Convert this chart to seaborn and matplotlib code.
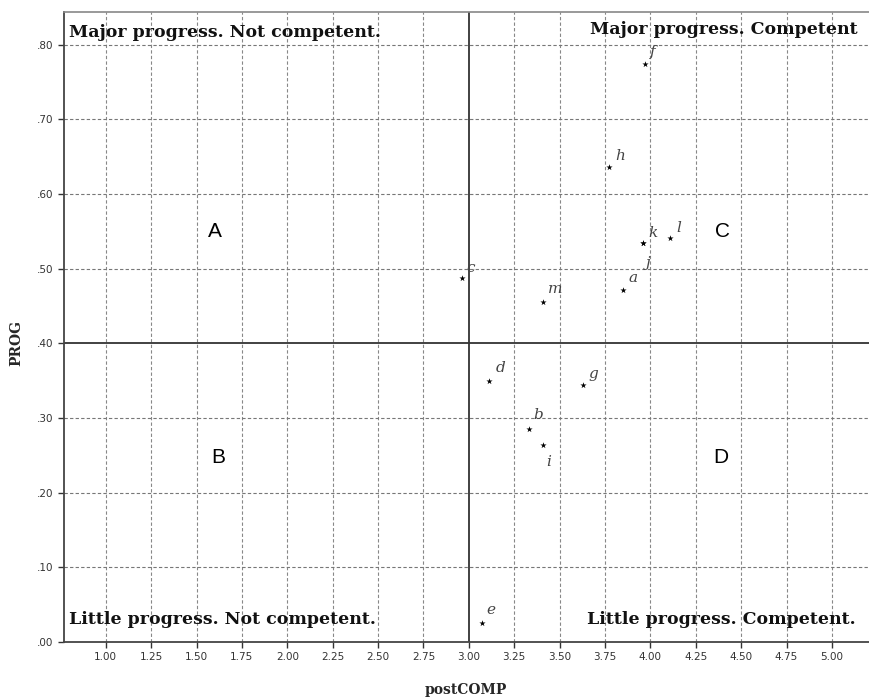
import matplotlib
matplotlib.use("Agg")
import matplotlib.pyplot as plt
import numpy as np
import pandas as pd
import seaborn as sns

# case labels and values
case_labels = ["a", "b", "c", "d", "e", "f", "g", "h", "i", "j", "k", "l", "m"]
post_comp = [3.85, 3.33, 2.96, 3.11, 3.07, 3.97, 3.63, 3.77, 3.41, 3.96, 3.96, 4.11, 3.41]
prog = [0.472, 0.285, 0.488, 0.349, 0.025, 0.775, 0.344, 0.637, 0.264, 0.535, 0.535, 0.541, 0.456]

x_ticks = [1.00, 1.25, 1.50, 1.75, 2.00, 2.25, 2.50, 2.75, 3.00, 3.25, 3.50, 3.75, 4.00, 4.25, 4.50, 4.75, 5.00]
y_ticks = [0.0, 0.1, 0.2, 0.3, 0.4, 0.5, 0.6, 0.7, 0.8]

x_ref = 3.0
y_ref = 0.40

# label offsets in pixels (dx, dy)
label_offsets = {
    "a": (10, 12), "b": (9, 14), "c": (9, 10), "d": (12, 13), "e": (9, 13),
    "f": (8, 12), "g": (10, 11), "h": (12, 11), "i": (5, -17), "j": (5, -20),
    "k": (10, 10), "l": (8, 10), "m": (12, 13),
}

df = pd.DataFrame({"case": case_labels, "postCOMP": post_comp, "PROG": prog})

sns.set_style("white")
plt.rcParams["font.family"] = ["DejaVu Sans"]

fig = plt.figure(figsize=(8.69, 7.0), dpi=100)
ax = fig.add_axes([64 / 869, 1 - 642 / 700, 1 - 64 / 869 + 0.02, (642 - 12) / 700])

sns.scatterplot(data=df, x="postCOMP", y="PROG", marker="*", s=22, color="black",
                edgecolor="black", linewidth=0, ax=ax, zorder=4)

for _, row in df.iterrows():
    dx, dy = label_offsets[row["case"]]
    ax.annotate(row["case"], (row["postCOMP"], row["PROG"]), xytext=(dx, dy),
                textcoords="offset pixels", ha="center", va="center",
                fontsize=11, fontstyle="italic", family="DejaVu Serif",
                color="#444444", zorder=5)

ax.set_xlim(0.77, 5.30)
ax.set_ylim(0.0, 0.844)
ax.set_xticks(x_ticks)
ax.set_xticklabels([f"{v:.2f}" for v in x_ticks], fontsize=7.5, color="#333333")
ax.set_yticks(y_ticks)
ax.set_yticklabels([f"{v:.2f}"[1:] for v in y_ticks], fontsize=7.5, color="#333333")
ax.tick_params(axis="both", length=4, width=1, color="#333333", direction="out",
               bottom=True, left=True)

for v in x_ticks:
    if v != x_ref:
        ax.axvline(v, color="#888888", lw=0.8, ls=(0, (3, 2)), zorder=1)
for v in y_ticks[1:]:
    if v != y_ref:
        ax.axhline(v, color="#777777", lw=0.8, ls=(0, (3, 2)), zorder=1)
ax.axvline(x_ref, color="#333333", lw=1.3, zorder=2)
ax.axhline(y_ref, color="#333333", lw=1.3, zorder=2)

for side in ["left", "bottom"]:
    ax.spines[side].set_color("#444444")
    ax.spines[side].set_linewidth(1.3)
ax.spines["top"].set_color("#888888")
ax.spines["top"].set_linewidth(1.2)
ax.spines["right"].set_visible(False)

serif_bold = dict(family="DejaVu Serif", fontweight="bold", fontsize=12.5, color="#111111", zorder=6)
ax.text(0.80, 0.816, "Major progress. Not competent.", ha="left", va="center", **serif_bold)
ax.text(5.14, 0.820, "Major progress. Competent", ha="right", va="center", **serif_bold)
ax.text(0.80, 0.030, "Little progress. Not competent.", ha="left", va="center", **serif_bold)
ax.text(5.13, 0.030, "Little progress. Competent.", ha="right", va="center", **serif_bold)

quad = dict(family="Liberation Sans", fontsize=15, color="black", ha="center", va="center")
ax.text(1.60, 0.55, "A", **quad)
ax.text(1.62, 0.247, "B", **quad)
ax.text(4.40, 0.55, "C", **quad)
ax.text(4.39, 0.247, "D", **quad)

ax.set_xlabel("")
ax.set_ylabel("")
fig.text(466 / 869, 1 - 690 / 700, "postCOMP", family="DejaVu Serif", fontweight="bold",
         fontsize=10, ha="center", va="center")
fig.text(16 / 869, 1 - 343 / 700, "PROG", family="DejaVu Serif", fontweight="bold",
         fontsize=10, ha="center", va="center", rotation=90)

fig.savefig("out.png", dpi=100)
